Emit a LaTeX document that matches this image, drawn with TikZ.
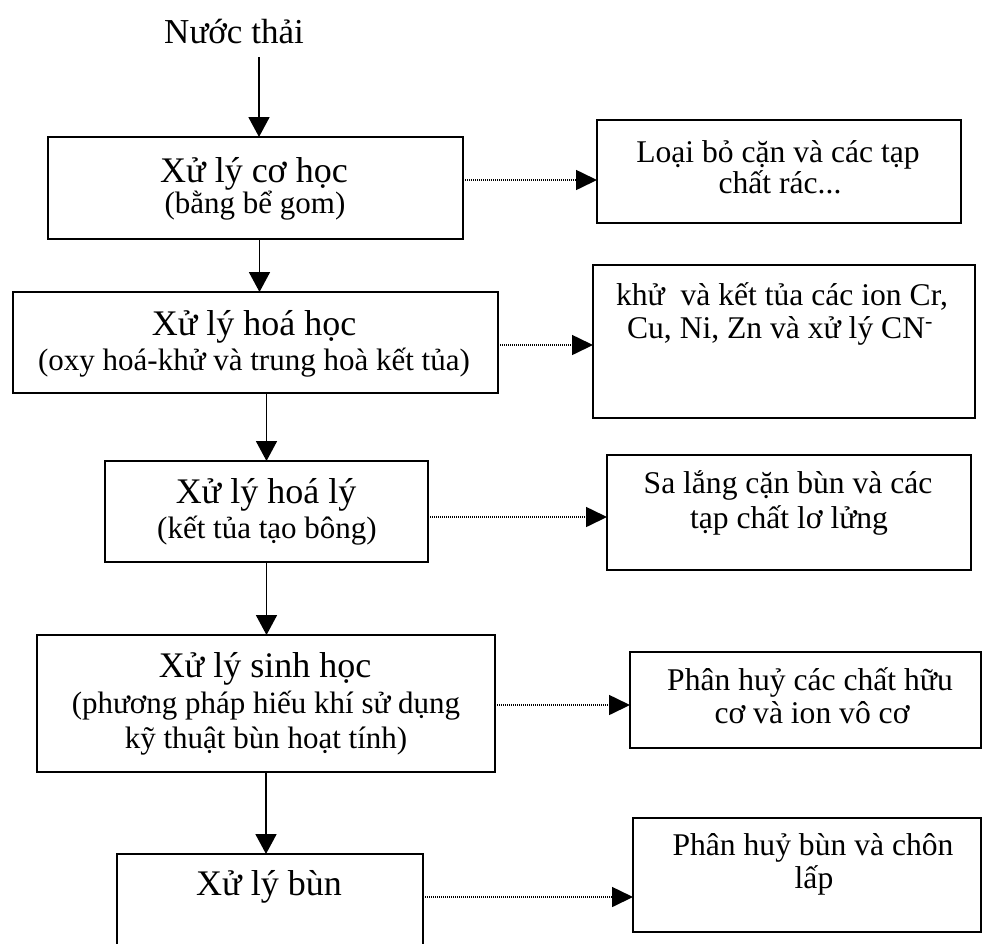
\documentclass[tikz,border=0pt]{standalone}
\usepackage{fontspec}
\setmainfont{Liberation Serif}
\usetikzlibrary{arrows.meta}
\tikzset{
  box/.style={draw, line width=1.8pt, inner sep=0pt, outer sep=0pt},
  ttl/.style={font=\fontsize{35}{40}\selectfont, anchor=base, inner sep=0pt},
  big/.style={font=\fontsize{36}{40}\selectfont, anchor=base, inner sep=0pt},
  small/.style={font=\fontsize{31}{35}\selectfont, anchor=base, inner sep=0pt},
  rtext/.style={font=\fontsize{31.6}{35}\selectfont, anchor=base, inner sep=0pt},
  flow/.style={line width=1.8pt, -{Triangle[length=20pt 0,width=21pt 0]}},
  side/.style={line width=1.6pt, dash pattern=on 1.2pt off 0.8pt, -{Triangle[length=21pt 0,width=20pt 0]}}
}
\begin{document}
\begin{tikzpicture}[x=1pt,y=-1pt]
\useasboundingbox (0,0) rectangle (984,943);
\clip (0,0) rectangle (984,943);

% left column boxes
\node[box, minimum width=415pt, minimum height=102pt] (b1) at (255.5,188) {};
\node[box, minimum width=485pt, minimum height=101pt] (b2) at (255.5,342.5) {};
\node[box, minimum width=323pt, minimum height=101pt] (b3) at (266.5,511.5) {};
\node[box, minimum width=458pt, minimum height=137pt] (b4) at (266,703.5) {};
\node[box, minimum width=306pt, minimum height=116pt] (b5) at (270,912) {};

% right column boxes
\node[box, minimum width=364pt, minimum height=103pt] (r1) at (779,171.5) {};
\node[box, minimum width=382pt, minimum height=153pt] (r2) at (784,341.5) {};
\node[box, minimum width=364pt, minimum height=115pt] (r3) at (789,512.5) {};
\node[box, minimum width=351pt, minimum height=96pt] (r4) at (805.5,700) {};
\node[box, minimum width=348pt, minimum height=114pt] (r5) at (807,875) {};

% texts
\node[ttl] (t0) at (234,43) {Nước thải};
\node[big] (b1a) at (254,182) {Xử lý cơ học};
\node[small] (b1b) at (255,213) {(bằng bể gom)};
\node[big] (b2a) at (254,335) {Xử lý hoá học};
\node[small] (b2b) at (254,370) {(oxy hoá-khử và trung hoà kết tủa)};
\node[big] (b3a) at (266,503) {Xử lý hoá lý};
\node[small] (b3b) at (267,538) {(kết tủa tạo bông)};
\node[big] (b4a) at (265,677) {Xử lý sinh học};
\node[small] (b4b) at (266,713) {(phương pháp hiếu khí sử dụng};
\node[small] (b4c) at (266,748) {kỹ thuật bùn hoạt tính)};
\node[big] (b5a) at (269,895) {Xử lý bùn};

\node[rtext] (r1a) at (778,162) {Loại bỏ cặn và các tạp};
\node[rtext] (r1b) at (780,193) {chất rác...};
\node[rtext] (r2a) at (782,305) {khử~ và kết tủa các ion Cr,};
\node[rtext] (r2b) at (780,338) {Cu, Ni, Zn và xử lý CN\textsuperscript{-}};
\node[rtext] (r3a) at (788,493) {Sa lắng cặn bùn và các};
\node[rtext] (r3b) at (789,528) {tạp chất lơ lửng};
\node[rtext] (r4a) at (810,690) {Phân huỷ các chất hữu};
\node[rtext] (r4b) at (812,723) {cơ và ion vô cơ};
\node[rtext] (r5a) at (813,855) {Phân huỷ bùn và chôn};
\node[rtext] (r5b) at (814,888) {lấp};

% vertical flow arrows
\coordinate (in) at (259,57);
\draw[flow] (in) -- (in |- b1.north);
\draw[flow] ([xshift=4pt]b1.south) -- ([xshift=4pt]b1.south |- b2.north);
\draw[flow] (b2.south -| b3.north) -- (b3.north);
\draw[flow] (b3.south) -- (b3.south |- b4.north);
\draw[flow] (b4.south) -- (b4.south |- b5.north);

% dotted side arrows
\draw[side] ([yshift=8pt]b1.east) -- ([yshift=8pt]b1.east -| r1.west);
\draw[side] ([yshift=-2.5pt]b2.east) -- ([yshift=-2.5pt]b2.east -| r2.west);
\draw[side] ([yshift=-5.5pt]b3.east) -- ([yshift=-5.5pt]b3.east -| r3.west);
\draw[side] ([yshift=-1.5pt]b4.east) -- ([yshift=-1.5pt]b4.east -| r4.west);
\draw[side] ([yshift=15pt]b5.east) -- ([yshift=15pt]b5.east -| r5.west);
\end{tikzpicture}
\end{document}
